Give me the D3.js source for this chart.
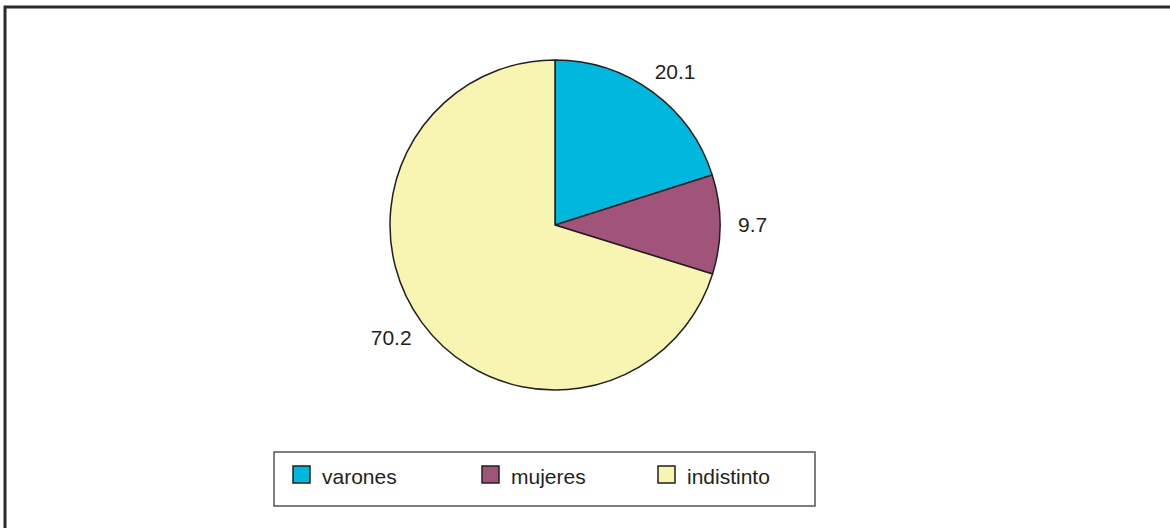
<!DOCTYPE html>
<html lang="es">
<head><meta charset="utf-8"/>
<style>
body { margin: 0; background: #fff; }
text { font-family: Arial, "Liberation Sans", sans-serif; fill: #231f20; }
</style>
</head>
<body>
<svg id="chart" width="1170" height="528"></svg>
<script src="https://cdn.jsdelivr.net/npm/d3@7/dist/d3.min.js"></script>
<script>

var categories = ["varones", "mujeres", "indistinto"];
var values = [20.1, 9.7, 70.2];
var labels = ["20.1", "9.7", "70.2"];
var colors = ["#00b7de", "#a0547a", "#f8f4b1"];

var svg = d3.select("#chart"),
    cx = 555, cy = 225, r = 165;

// outer frame (runs off the right and bottom edges)
svg.append("rect")
	.attr("x", 5).attr("y", 7)
	.attr("width", 1200).attr("height", 560)
	.attr("fill", "none")
	.attr("stroke", "#2b2b2b")
	.attr("stroke-width", 3);

var data = categories.map((c, i) => ({key: c, value: values[i], label: labels[i]}));
var z = d3.scaleOrdinal().domain(categories).range(colors);

var pie = d3.pie().sort(null).value(d => d.value);
var arc = d3.arc().innerRadius(0).outerRadius(r);
var lr = 183; // label box touches this radius

var g = svg.append("g").attr("transform", "translate(" + cx + "," + cy + ")");

g.selectAll(".slice")
	.data(pie(data))
	.enter().append("path")
	.attr("class", "slice")
	.attr("d", arc)
	.attr("fill", d => z(d.data.key))
	.attr("stroke", "#231f20")
	.attr("stroke-width", 1.5)
	.attr("stroke-linejoin", "round");

var capH = 15;
g.selectAll(".lbl")
	.data(pie(data))
	.enter().append("text")
	.attr("class", "lbl")
	.attr("text-anchor", "middle")
	.attr("font-size", 21)
	.text(d => d.data.label)
	.each(function(d){
		var a = (d.startAngle + d.endAngle) / 2,
		    s = Math.sin(a), c = Math.cos(a),
		    w = this.getComputedTextLength();
		var x = lr * s + s * w / 2,
		    y = -lr * c - c * capH / 2;
		d3.select(this).attr("x", x).attr("y", y + capH / 2);
	});

// legend
var leg = svg.append("g");
leg.append("rect")
	.attr("x", 274).attr("y", 452)
	.attr("width", 541).attr("height", 54)
	.attr("fill", "#fff")
	.attr("stroke", "#555")
	.attr("stroke-width", 1.5);

var lx = d3.scaleOrdinal().domain(categories).range([293, 482, 658]);

var item = leg.selectAll(".item")
	.data(categories)
	.enter().append("g")
	.attr("class", "item")
	.attr("transform", d => "translate(" + lx(d) + ",466)");

item.append("rect")
	.attr("width", 17).attr("height", 17)
	.attr("fill", d => z(d))
	.attr("stroke", "#231f20")
	.attr("stroke-width", 1.5);

item.append("text")
	.attr("x", 29).attr("y", 18)
	.attr("font-size", 21)
	.text(d => d);

</script>
</body>
</html>
